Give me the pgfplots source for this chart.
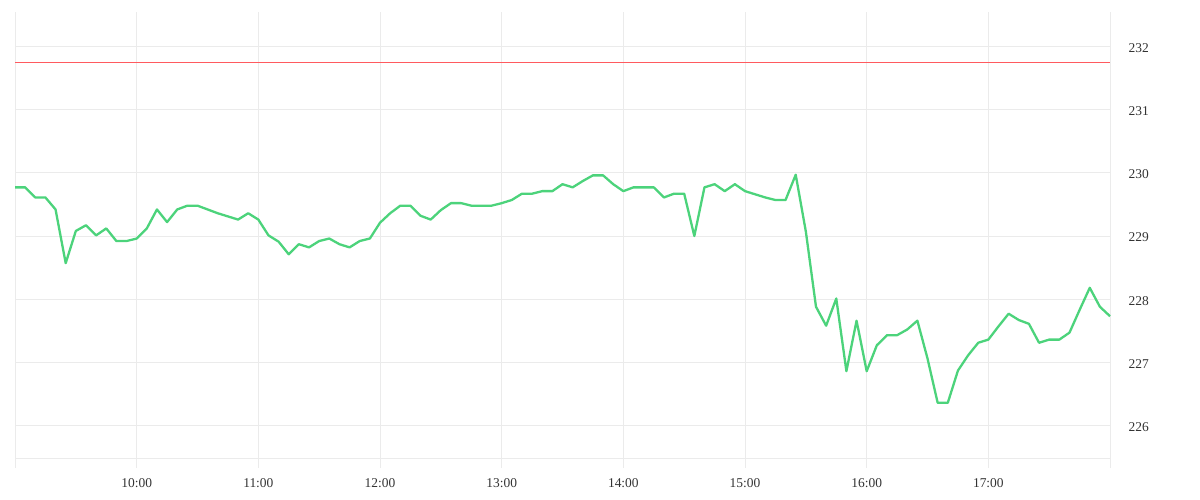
\documentclass[border=0pt]{standalone}
\usepackage{pgfplots}
\pgfplotsset{compat=1.18}
\usepackage{fontspec}
\setmainfont{Liberation Serif}

\definecolor{linegreen}{HTML}{4CD37B}
\definecolor{refred}{HTML}{FF5A5F}
\definecolor{gridgray}{HTML}{EBEBEB}
\definecolor{labelgray}{HTML}{333333}

% minutes after midnight, 5-minute steps
\pgfplotstableread{
t     v
540   229.77
545   229.77
550   229.61
555   229.61
560   229.42
565   228.57
570   229.08
575   229.17
580   229.01
585   229.12
590   228.92
595   228.92
600   228.96
605   229.12
610   229.42
615   229.22
620   229.42
625   229.48
630   229.48
635   229.42
640   229.36
645   229.31
650   229.26
655   229.36
660   229.26
665   229.01
670   228.91
675   228.71
680   228.87
685   228.82
690   228.92
695   228.96
700   228.87
705   228.82
710   228.92
715   228.96
720   229.21
725   229.36
730   229.48
735   229.48
740   229.32
745   229.26
750   229.41
755   229.52
760   229.52
765   229.48
770   229.48
775   229.48
780   229.52
785   229.57
790   229.67
795   229.67
800   229.71
805   229.71
810   229.82
815   229.77
820   229.87
825   229.96
830   229.96
835   229.82
840   229.71
845   229.77
850   229.77
855   229.77
860   229.61
865   229.67
870   229.67
875   229.00
880   229.77
885   229.82
890   229.71
895   229.82
900   229.71
905   229.66
910   229.61
915   229.57
920   229.57
925   229.97
930   229.07
935   227.88
940   227.58
945   228.01
950   226.86
955   227.66
960   226.86
965   227.27
970   227.43
975   227.43
980   227.52
985   227.66
990   227.06
995   226.36
1000  226.36
1005  226.87
1010  227.11
1015  227.31
1020  227.36
1025  227.57
1030  227.77
1035  227.67
1040  227.61
1045  227.31
1050  227.36
1055  227.36
1060  227.47
1065  227.83
1070  228.18
1075  227.88
1080  227.73
}\pricedata

\begin{document}
\begin{tikzpicture}[x=1bp,y=1bp]
\useasboundingbox (0,0) rectangle (1200,500);
\begin{axis}[
  at={(15bp,42bp)},
  anchor=south west,
  width=1095bp,
  height=446bp,
  scale only axis,
  xmin=540, xmax=1080,
  ymin=225.486, ymax=232.546,
  axis x line*=bottom,
  axis y line*=right,
  axis line style={gridgray, line width=0.8bp},
  xtick={540,600,...,1080},
  xticklabels={,10:00,11:00,12:00,13:00,14:00,15:00,16:00,17:00,},
  ytick={226,227,...,232},
  grid=major,
  grid style={gridgray, line width=0.8bp},
  tick align=outside,
  major tick length=10bp,
  x tick style={gridgray, line width=0.8bp},
  y tick style={draw=none},
  ticklabel style={labelgray, font=\fontsize{13.5}{15}\selectfont},
  xticklabel style={yshift=-7bp},
  yticklabel style={anchor=west, xshift=5bp, yshift=-1.5bp},
  /pgf/number format/assume math mode=true,
  clip=false,
]
\addplot[refred, line width=0.9bp] coordinates {(540,231.755) (1080,231.755)};
\addplot[linegreen, line width=2.3bp, line join=round] table[x=t, y=v] {\pricedata};
\end{axis}
\end{tikzpicture}
\end{document}
